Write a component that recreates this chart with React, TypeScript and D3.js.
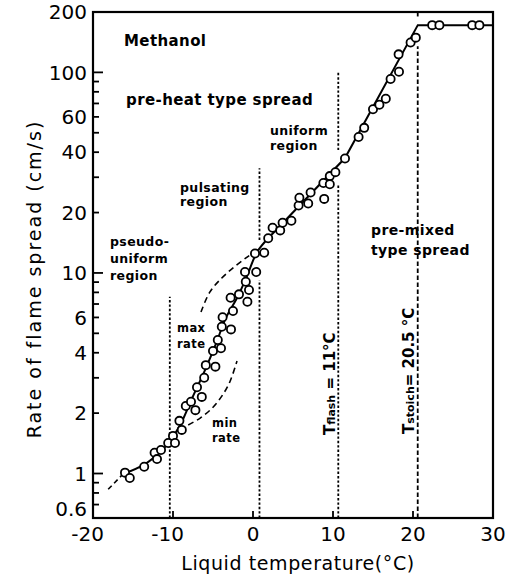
import { useEffect, useRef } from "react";
import * as d3 from "d3";

// measured points: liquid temperature (°C) and rate of flame spread (cm/s)
const tempC = [
  -16.0, -15.4, -13.6, -12.3, -12.0, -11.5, -10.6, -10.0, -9.75, -9.2, -8.9,
  -8.4, -7.75, -7.2, -7.0, -6.4, -6.1, -5.9, -4.7, -5.0, -4.0, -4.4, -3.9,
  -2.75, -3.8, -2.5, -2.8, -1.75, -0.7, -0.5, -0.9, -1.0, 0.4, 0.25, 1.4, 1.9,
  2.45, 3.4, 3.7, 4.8, 5.7, 5.8, 6.9, 7.2, 8.8, 8.9, 9.6, 9.6, 10.3, 11.5,
  13.2, 13.9, 15.0, 15.8, 16.6, 17.2, 18.25, 18.2, 19.7, 20.35, 22.4, 23.3,
  27.4, 28.3,
];
const spreadRate = [
  1.01, 0.95, 1.08, 1.27, 1.18, 1.31, 1.42, 1.54, 1.42, 1.83, 1.65, 2.17,
  2.28, 2.07, 2.69, 2.41, 3.0, 3.47, 3.41, 4.08, 4.21, 4.63, 5.39, 5.23, 6.01,
  6.46, 7.52, 7.82, 7.19, 8.22, 9.04, 10.1, 10.1, 12.5, 12.6, 14.9, 16.8, 16.3,
  17.8, 18.2, 21.7, 23.7, 22.2, 25.2, 28.1, 23.4, 30.4, 27.7, 31.8, 37.2, 47.6,
  52.9, 65.5, 68.9, 73.9, 92.6, 100.7, 123, 141, 149, 172, 172, 172, 172,
];

// hand-drawn fit curve (curved part, then straight parts)
const fitCurveT = [-16.25, -13.5, -11.6, -10.4, -9.1, -7.6, -6.0, -4.6, -3.4, -2.0, -0.75, 0.5, 1.9];
const fitCurveR = [0.994, 1.115, 1.28, 1.45, 1.745, 2.38, 3.28, 4.47, 5.96, 7.5, 9.65, 12.7, 14.9];
const fitLineT = [1.9, 11.5, 20.6, 30];
const fitLineR = [14.9, 37.4, 172, 172];
const fitExtT = [-18.1, -16.25];
const fitExtR = [0.834, 0.994];

// envelope curves
const maxRateT = [-6.5, -5.4, -3.9, -2.25, -0.6, 0.9];
const maxRateR = [6.38, 8.03, 9.43, 10.8, 12.1, 13.3];
const minRateT = [-8.1, -6.6, -5.1, -3.9, -2.9, -2.0];
const minRateR = [1.745, 1.89, 2.12, 2.43, 2.86, 3.64];

// region boundaries (temperature, and the rate spans drawn)
const boundaryT = [-10.4, 0.81, 10.66, 20.59];
const boundarySpans = [
  [[0.6, 7.6]],
  [[0.6, 9.2], [14.6, 33.3]],
  [[0.6, 27.9], [41, 100]],
  [[0.6, 135], [190, 200]],
];

const xTicks = [-20, -10, 0, 10, 20, 30];
const yTickLabels = [0.6, 1, 2, 4, 6, 10, 20, 40, 60, 100, 200];

const FONT = "'DejaVu Sans', sans-serif";

export default function App() {
  const ref = useRef<SVGSVGElement>(null);

  useEffect(() => {
    const svg = d3.select(ref.current);
    svg.selectAll("*").remove();

    const x = d3.scaleLinear().domain([-20, 30]).range([93, 493]);
    const y = d3.scaleLog().domain([0.6, 200]).range([518, 12]);

    const line = (ts: number[], rs: number[], curve: d3.CurveFactory) =>
      d3
        .line<number>()
        .x((t) => x(t))
        .y((_, i) => y(rs[i]))
        .curve(curve)(ts);

    // frame
    svg
      .append("rect")
      .attr("x", x(-20))
      .attr("y", y(200))
      .attr("width", x(30) - x(-20))
      .attr("height", y(0.6) - y(200))
      .attr("fill", "none")
      .attr("stroke", "#000")
      .attr("stroke-width", 2.2);

    // y ticks (inward)
    y.ticks().forEach((v) => {
      const major = Math.abs(Math.log10(v) - Math.round(Math.log10(v))) < 1e-9;
      svg
        .append("line")
        .attr("x1", x(-20))
        .attr("x2", x(-20) + (major ? 10 : 6))
        .attr("y1", y(v))
        .attr("y2", y(v))
        .attr("stroke", "#000")
        .attr("stroke-width", 1.8);
    });
    svg
      .selectAll(".ylab")
      .data(yTickLabels)
      .enter()
      .append("text")
      .attr("x", x(-20) - 6)
      .attr("y", (d) => y(d) - (d === 0.6 ? 9 : 0))
      .attr("dy", "0.36em")
      .attr("text-anchor", "end")
      .attr("font-family", FONT)
      .attr("font-size", 20)
      .text((d) => String(d));

    // x ticks
    xTicks.slice(1, -1).forEach((v) => {
      svg
        .append("line")
        .attr("x1", x(v))
        .attr("x2", x(v))
        .attr("y1", y(0.6))
        .attr("y2", y(0.6) - 7)
        .attr("stroke", "#000")
        .attr("stroke-width", 1.8);
    });
    svg
      .selectAll(".xlab")
      .data(xTicks)
      .enter()
      .append("text")
      .attr("x", (d) => x(d) + (d < 0 ? 11 : 0))
      .attr("y", 541)
      .attr("text-anchor", (d) => (d < 0 ? "end" : "middle"))
      .attr("font-family", FONT)
      .attr("font-size", 20)
      .text((d) => (d < 0 ? "-" + Math.abs(d) : String(d)));

    // axis titles
    svg
      .append("text")
      .attr("x", 298)
      .attr("y", 570)
      .attr("text-anchor", "middle")
      .attr("font-family", FONT)
      .attr("font-size", 19)
      .attr("letter-spacing", 0.6)
      .text("Liquid  temperature(°C)");
    svg
      .append("text")
      .attr("transform", `translate(41,279) rotate(-90)`)
      .attr("text-anchor", "middle")
      .attr("font-family", FONT)
      .attr("font-size", 19)
      .attr("letter-spacing", 2)
      .text("Rate of flame spread (cm/s)");

    // region boundaries
    boundaryT.forEach((t, i) => {
      boundarySpans[i].forEach(([lo, hi]) => {
        svg
          .append("line")
          .attr("x1", x(t))
          .attr("x2", x(t))
          .attr("y1", y(lo))
          .attr("y2", y(hi))
          .attr("stroke", "#000")
          .attr("stroke-width", 1.8)
          .attr("stroke-dasharray", i === 3 ? "4.5 2.5" : "2.4 2");
      });
    });

    // envelopes
    [
      [maxRateT, maxRateR],
      [minRateT, minRateR],
    ].forEach(([ts, rs]) => {
      svg
        .append("path")
        .attr("d", line(ts, rs, d3.curveCatmullRom))
        .attr("fill", "none")
        .attr("stroke", "#000")
        .attr("stroke-width", 1.6)
        .attr("stroke-dasharray", "6 4");
    });

    // fit
    svg
      .append("path")
      .attr("d", line(fitExtT, fitExtR, d3.curveLinear))
      .attr("fill", "none")
      .attr("stroke", "#000")
      .attr("stroke-width", 1.6)
      .attr("stroke-dasharray", "5 3.5");
    svg
      .append("path")
      .attr("d", line(fitCurveT, fitCurveR, d3.curveCatmullRom))
      .attr("fill", "none")
      .attr("stroke", "#000")
      .attr("stroke-width", 2);
    svg
      .append("path")
      .attr("d", line(fitLineT, fitLineR, d3.curveLinear))
      .attr("fill", "none")
      .attr("stroke", "#000")
      .attr("stroke-width", 2);

    // points
    svg
      .selectAll(".pt")
      .data(tempC)
      .enter()
      .append("circle")
      .attr("cx", (t) => x(t))
      .attr("cy", (_, i) => y(spreadRate[i]))
      .attr("r", 4.1)
      .attr("fill", "#fff")
      .attr("stroke", "#000")
      .attr("stroke-width", 1.8);

    // annotations
    const note = (lines: string[], px: number, py: number, size: number, gap: number) => {
      lines.forEach((s, k) => {
        svg
          .append("text")
          .attr("x", px)
          .attr("y", py + k * gap)
          .attr("font-family", FONT)
          .attr("font-weight", "bold")
          .attr("font-size", size)
          .attr("letter-spacing", 0.4)
          .text(s);
      });
    };
    note(["Methanol"], 124, 46, 15, 0);
    note(["pre-heat type spread"], 126, 105, 15, 0);
    note(["pulsating", "region"], 180, 192, 12.5, 14);
    note(["uniform", "region"], 270, 135, 12.5, 15);
    note(["pseudo-", "uniform", "region"], 110, 246, 12.5, 17);
    note(["pre-mixed", "type spread"], 371, 235, 14, 20);
    note(["max", "rate"], 177, 332, 11.5, 16);
    note(["min", "rate"], 212, 427, 11.5, 15);

    const vlabel = (px: number, py: number, sub: string, rest: string) => {
      const t = svg
        .append("text")
        .attr("transform", `translate(${px},${py}) rotate(-90)`)
        .attr("font-family", FONT)
        .attr("font-weight", "bold")
        .attr("font-size", 15);
      t.append("tspan").text("T");
      t.append("tspan").attr("font-size", 11).text(sub);
      t.append("tspan").text(rest);
    };
    vlabel(335, 435, "flash", " = 11°C");
    vlabel(414, 434, "stoich", "= 20.5 °C");
  }, []);

  return (
    <svg
      ref={ref}
      width={514}
      height={576}
      style={{ position: "absolute", left: 0, top: 0, background: "#fff" }}
    />
  );
}
